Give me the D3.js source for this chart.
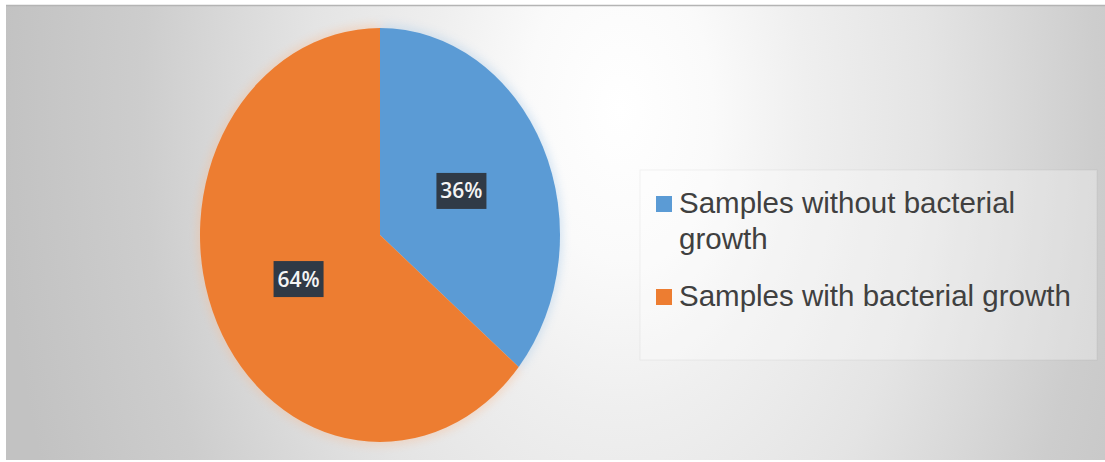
<!DOCTYPE html>
<html>
<head>
<meta charset="utf-8">
<script src="https://cdn.jsdelivr.net/npm/d3@7"></script>
<style>
  html, body { margin: 0; padding: 0; background: #ffffff; }
  svg { display: block; }
</style>
</head>
<body>
<svg id="chart" width="1105" height="462"></svg>
<script>
const categories = ["Samples without bacterial growth", "Samples with bacterial growth"];
const values = [36, 64];
const dataLabels = ["36%", "64%"];
const legendLines = [["Samples without bacterial", "growth"], ["Samples with bacterial growth"]];
const colors = ["#5B9BD5", "#ED7D31"];

const svg = d3.select("#chart");
const W = 1105, H = 462;

const defs = svg.append("defs");
const bg = defs.append("radialGradient")
  .attr("id", "bg")
  .attr("gradientUnits", "userSpaceOnUse")
  .attr("cx", 620).attr("cy", 110).attr("r", 620)
  .attr("gradientTransform", "translate(620,110) scale(1,1.6) translate(-620,-110)");
[[0, "#ffffff"], [0.15, "#fafafa"], [0.3, "#efefef"], [0.5, "#e4e4e4"],
 [0.62, "#dadada"], [0.77, "#cdcdcd"], [1, "#c2c2c2"]].forEach(([o, c]) =>
  bg.append("stop").attr("offset", o).attr("stop-color", c));

const blur = defs.append("filter").attr("id", "glow")
  .attr("x", "-20%").attr("y", "-20%").attr("width", "140%").attr("height", "140%");
blur.append("feGaussianBlur").attr("stdDeviation", 4);

// background panel
svg.append("rect").attr("x", 6).attr("y", 6).attr("width", W - 6).attr("height", 454)
  .attr("fill", "url(#bg)");
svg.append("line").attr("x1", 6).attr("x2", W).attr("y1", 5.5).attr("y2", 5.5)
  .attr("stroke", "#b4b4b4").attr("stroke-width", 1.5);

// pie
const cx = 380, cy = 235, rx = 180, ry = 207;
const pie = d3.pie().sort(null).value(d => d)(values);
const arc = d3.arc().innerRadius(0).outerRadius(rx);
const labelArc = d3.arc().innerRadius(rx * 0.5).outerRadius(rx * 0.5);

const pg = svg.append("g").attr("transform", `translate(${cx},${cy}) scale(1,${ry / rx})`);
pg.append("g").attr("filter", "url(#glow)").attr("opacity", 0.45)
  .selectAll("path").data(pie).join("path")
  .attr("d", d3.arc().innerRadius(0).outerRadius(rx + 3))
  .attr("fill", (d, i) => d3.interpolateRgb(colors[i], "#ffffff")(0.5));
pg.selectAll("path.slice").data(pie).join("path")
  .attr("class", "slice")
  .attr("d", arc)
  .attr("fill", (d, i) => colors[i]);

// data labels
const lg = svg.append("g");
pie.forEach((d, i) => {
  const [lx, ly] = labelArc.centroid(d);
  const x = cx + lx, y = cy + ly * (ry / rx);
  lg.append("rect").attr("x", x - 25).attr("y", y - 18).attr("width", 50).attr("height", 36)
    .attr("fill", "#303a46");
  lg.append("text").attr("x", x).attr("y", y + 7.5)
    .attr("text-anchor", "middle")
    .attr("font-family", "'Open Sans', 'Liberation Sans', sans-serif")
    .attr("font-weight", 600).attr("font-size", 21)
    .attr("fill", "#f4f4f4")
    .text(dataLabels[i]);
});

// legend
const leg = svg.append("g");
leg.append("rect").attr("x", 640).attr("y", 170).attr("width", 457).attr("height", 190)
  .attr("fill", "rgba(255,255,255,0.3)").attr("stroke", "rgba(0,0,0,0.05)");
const baselines = [[213, 249], [306]];
categories.forEach((c, i) => {
  leg.append("rect").attr("x", 656).attr("y", baselines[i][0] - 17).attr("width", 16).attr("height", 16)
    .attr("fill", colors[i]);
  const t = leg.append("text")
    .attr("font-family", "'Liberation Sans', Arial, sans-serif")
    .attr("font-size", 29.5).attr("fill", "#404040");
  legendLines[i].forEach((ln, j) => {
    t.append("tspan").attr("x", 679).attr("y", baselines[i][j]).text(ln);
  });
});
</script>
</body>
</html>
